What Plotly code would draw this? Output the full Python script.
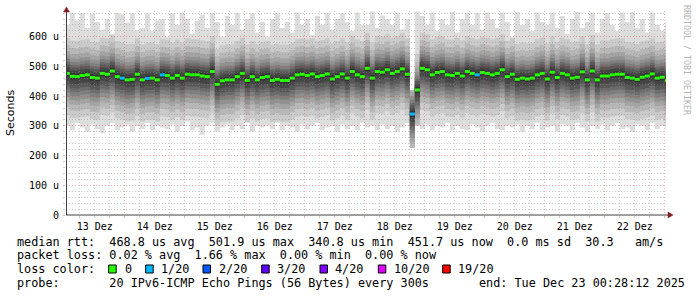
import numpy as np
import plotly.graph_objects as go

# ---------------- data ----------------
day_labels = ["13 Dez", "14 Dez", "15 Dez", "16 Dez", "17 Dez",
              "18 Dez", "19 Dez", "20 Dez", "21 Dez", "22 Dez"]
y_tick_vals = [0, 100, 200, 300, 400, 500, 600]
y_tick_text = ["0", "100 u", "200 u", "300 u", "400 u", "500 u", "600 u"]

# median RTT per 2-hour column (microseconds), starting 13 Dez 00:00
median_us = [
    477, 467, 466, 470, 472, 463, 461, 477, 474, 485, 466, 461, 455, 457, 474, 455, 460, 461, 455, 472,
    470, 461, 470, 461, 474, 472, 472, 468, 466, 483, 440, 452, 455, 455, 466, 477, 453, 466, 455, 463,
    466, 453, 457, 453, 453, 461, 472, 474, 470, 475, 466, 470, 475, 458, 466, 475, 461, 483, 472, 466,
    494, 461, 483, 481, 489, 477, 483, 492, 474, 340, 421, 494, 489, 472, 480, 483, 472, 470, 477, 468,
    483, 477, 472, 480, 477, 472, 477, 489, 466, 474, 457, 461, 458, 461, 472, 477, 458, 481, 463, 477,
    472, 461, 464, 482, 455, 485, 455, 468, 468, 472, 474, 474, 463, 461, 457, 464, 468, 475, 461, 464,
    452,
]
# lost pings (out of 20) per column
loss_count = [0] * len(median_us)
for _i in (11, 16, 19, 69, 82):
    loss_count[_i] = 1

# highest / lowest ping per column (microseconds)
top_us = [
    640, 682, 655, 680, 630, 678, 650, 625, 660, 610, 680, 676, 648, 680, 622, 630, 678, 620, 655, 660,
    600, 680, 640, 682, 660, 610, 655, 675, 630, 680, 650, 600, 670, 640, 680, 625, 660, 680, 615, 650,
    600, 660, 680, 630, 650, 615, 682, 640, 660, 605, 670, 640, 680, 625, 660, 680, 650, 620, 682, 640,
    640, 685, 630, 672, 660, 640, 682, 625, 660, 420, 685, 670, 640, 682, 620, 660, 640, 684, 615, 660,
    682, 640, 680, 625, 683, 660, 630, 682, 650, 600, 684, 640, 660, 620, 682, 650, 640, 683, 630, 670,
    610, 660, 684, 630, 650, 682, 615, 660, 680, 640, 620, 682, 650, 684, 630, 660, 615, 682, 640, 620,
    650,
]
bottom_us = [
    300, 285, 310, 295, 280, 305, 290, 275, 300, 310, 285, 295, 305, 280, 300, 290, 310, 285, 300, 295,
    290, 305, 280, 300, 315, 285, 295, 270, 300, 310, 280, 295, 305, 285, 300, 290, 310, 280, 300, 295,
    300, 290, 310, 285, 300, 295, 280, 305, 290, 300, 310, 285, 295, 300, 280, 305, 290, 300, 285, 310,
    295, 300, 285, 305, 290, 300, 280, 295, 310, 226, 300, 290, 305, 285, 300, 295, 310, 285, 300, 290,
    285, 305, 295, 280, 300, 310, 290, 285, 300, 295, 305, 280, 300, 290, 310, 285, 295, 300, 280, 305,
    300, 285, 310, 295, 280, 300, 290, 305, 285, 300, 310, 290, 295, 280, 305, 300, 285, 310, 290, 300,
    295,
]
# typical spread of the sorted pings 2..10 and 11..19 around the median (us)
lower_offsets = [-140, -115, -95, -80, -65, -52, -40, -25, -10]
upper_offsets = [10, 20, 30, 38, 48, 60, 75, 95, 120]

loss_colors = {0: "#26ff00", 1: "#00b8ff", 2: "#0059ff", 3: "#5e00ff",
               4: "#7e00ff", 10: "#dd00ff", 19: "#ff0000"}
loss_labels = ["0", "1/20", "2/20", "3/20", "4/20", "10/20", "19/20"]

STEP_H = 2.0  # hours per column

# ---------------- geometry ----------------
W, H = 697, 297
L, R, T, B = 66, 31, 11, 82
PW, PH = W - L - R, H - T - B
X_RANGE = [0.47, 240.47]
Y_MAX = 687

def px(x):
    return (x - L) / PW

def py(y):
    return (T + PH - y) / PH

MONO = "DejaVu Sans Mono"
GRID = "rgba(140,140,140,0.42)"
MGRID = "rgba(215,70,70,0.42)"

# ---------------- build smoke ----------------
med = np.array(median_us, float)
top = np.array(top_us, float)
bot = np.array(bottom_us, float)
n = len(med)
pings = [bot]
for o in lower_offsets:
    pings.append(med + o)
for o in upper_offsets:
    pings.append(med + o)
pings.append(top)
pings = np.clip(np.array(pings), bot, top)
pings = np.sort(pings, axis=0)

t = np.arange(n) * STEP_H
t_ext = np.append(t, t[-1] + STEP_H)

def ext(v):
    return np.append(v, v[-1])

fig = go.Figure()
half = 10
for k in range(half):
    c = int(190 / half * (half - (k + 1))) + 50
    shade = "rgb(%d,%d,%d)" % (c, c, c)
    fig.add_trace(go.Scatter(x=t_ext, y=ext(pings[k]), mode="lines",
                             line=dict(width=0, shape="hv", color=shade),
                             hoverinfo="skip", showlegend=False))
    fig.add_trace(go.Scatter(x=t_ext, y=ext(pings[19 - k]), mode="lines",
                             line=dict(width=0, shape="hv", color=shade),
                             fill="tonexty", fillcolor=shade,
                             hoverinfo="skip", showlegend=False))

# median segments coloured by loss
for lvl, col in loss_colors.items():
    xs, ys = [], []
    for i in range(n):
        if loss_count[i] == lvl:
            xs += [t[i], t[i] + STEP_H, None]
            ys += [med[i], med[i], None]
    if xs:
        fig.add_trace(go.Scatter(x=xs, y=ys, mode="lines",
                                 line=dict(width=3, color=col),
                                 hoverinfo="skip", showlegend=False))

# grid overlay subplot (drawn above the smoke, as rrdtool does)
fig.add_trace(go.Scatter(x=[None], y=[None], xaxis="x2", yaxis="y2",
                         showlegend=False, hoverinfo="skip"))

noon = [12 + 24 * i for i in range(len(day_labels))]

fig.update_layout(
    width=W, height=H,
    margin=dict(l=L, r=R, t=T, b=B, pad=0),
    paper_bgcolor="white", plot_bgcolor="rgba(0,0,0,0)",
    showlegend=False,
    xaxis=dict(range=X_RANGE, domain=[0, 1], anchor="y", showgrid=False, zeroline=False,
               showline=False, tickvals=noon, ticktext=day_labels, ticks="",
               tickfont=dict(family=MONO, size=10, color="black"), ticklabelstandoff=4),
    yaxis=dict(range=[0, Y_MAX], domain=[0, 1], anchor="x", showgrid=False, zeroline=False,
               showline=False, tickvals=y_tick_vals, ticktext=y_tick_text, ticks="",
               tickfont=dict(family=MONO, size=10, color="black"), ticklabelstandoff=6),
    xaxis2=dict(range=X_RANGE, domain=[0, 1], anchor="y2", showticklabels=False,
                zeroline=False, showline=False, tick0=0, dtick=24,
                showgrid=True, gridcolor=MGRID, griddash="1px,2px", gridwidth=1,
                ticks="outside", ticklen=2, tickcolor=MGRID,
                minor=dict(tick0=0, dtick=6, showgrid=True, gridcolor=GRID,
                           griddash="1px,2px", gridwidth=1, ticks="outside",
                           ticklen=2, tickcolor=GRID)),
    yaxis2=dict(range=[0, Y_MAX], domain=[0, 1], anchor="x2", showticklabels=False,
                zeroline=False, showline=False, tick0=0, dtick=100,
                showgrid=True, gridcolor=MGRID, griddash="1px,2px", gridwidth=1,
                ticks="outside", ticklen=2, tickcolor=MGRID,
                minor=dict(tick0=0, dtick=20, showgrid=True, gridcolor=GRID,
                           griddash="1px,2px", gridwidth=1, ticks="outside",
                           ticklen=2, tickcolor=GRID)),
)

# axis lines + arrows
AX = "#404040"
ARROW = "#7f1f1f"
shapes = [
    dict(type="line", xref="paper", yref="paper", x0=px(66.5), x1=px(66.5),
         y0=py(215), y1=py(11), line=dict(color=AX, width=1)),
    dict(type="line", xref="paper", yref="paper", x0=px(66), x1=px(669),
         y0=py(215), y1=py(215), line=dict(color=AX, width=1)),
    dict(type="path", xref="paper", yref="paper",
         path="M %f %f L %f %f L %f %f Z" % (px(66.5), py(7), px(63.5), py(12), px(69.5), py(12)),
         fillcolor=ARROW, line=dict(color=ARROW, width=0.5)),
    dict(type="path", xref="paper", yref="paper",
         path="M %f %f L %f %f L %f %f Z" % (px(673), py(215), px(668), py(212), px(668), py(218)),
         fillcolor=ARROW, line=dict(color=ARROW, width=0.5)),
]

NB = "\u00a0"
def sp(s):
    return s.replace(" ", NB)

LEG = 11.8
annotations = [
    dict(text="Seconds", xref="paper", yref="paper", x=px(10), y=py(113), textangle=-90,
         showarrow=False, font=dict(family="DejaVu Sans", size=11, color="black"),
         xanchor="center", yanchor="middle"),
    dict(text=sp("RRDTOOL / TOBI OETIKER"), xref="paper", yref="paper", x=px(687), y=py(60),
         textangle=90, showarrow=False, font=dict(family=MONO, size=8.3, color="#b4b4b4"),
         xanchor="center", yanchor="middle"),
    dict(text=sp("median rtt:  468.8 us avg  501.9 us max  340.8 us min  451.7 us now  0.0 ms sd  30.3   am/s"),
         xref="paper", yref="paper", x=px(15), y=py(241.8), showarrow=False,
         font=dict(family=MONO, size=LEG, color="black"), xanchor="left", yanchor="middle"),
    dict(text=sp("packet loss: 0.02 % avg  1.66 % max  0.00 % min  0.00 % now"),
         xref="paper", yref="paper", x=px(15), y=py(255.4), showarrow=False,
         font=dict(family=MONO, size=LEG, color="black"), xanchor="left", yanchor="middle"),
    dict(text=sp("loss color:"), xref="paper", yref="paper", x=px(15), y=py(269.1), showarrow=False,
         font=dict(family=MONO, size=LEG, color="black"), xanchor="left", yanchor="middle"),
    dict(text=sp("probe:       20 IPv6-ICMP Echo Pings (56 Bytes) every 300s"),
         xref="paper", yref="paper", x=px(15), y=py(282.8), showarrow=False,
         font=dict(family=MONO, size=LEG, color="black"), xanchor="left", yanchor="middle"),
    dict(text=sp("end: Tue Dec 23 00:28:12 2025"),
         xref="paper", yref="paper", x=px(477), y=py(282.8), showarrow=False,
         font=dict(family=MONO, size=LEG, color="black"), xanchor="left", yanchor="middle"),
]

box_x = [108.7, 145.7, 203.0, 261.7, 320.0, 378.3, 442.7]
label_x = [124.0, 160.0, 218.3, 276.0, 334.3, 392.7, 456.7]
for bx, lx, lab, col in zip(box_x, label_x, loss_labels, loss_colors.values()):
    shapes.append(dict(type="rect", xref="paper", yref="paper",
                       x0=px(bx), x1=px(bx + 7.5), y0=py(265), y1=py(273),
                       fillcolor=col, line=dict(color="black", width=1)))
    annotations.append(dict(text=lab, xref="paper", yref="paper", x=px(lx - 1), y=py(269.1),
                            showarrow=False, font=dict(family=MONO, size=LEG, color="black"),
                            xanchor="left", yanchor="middle"))

fig.update_layout(shapes=shapes, annotations=annotations)
fig.write_html("out.html")
